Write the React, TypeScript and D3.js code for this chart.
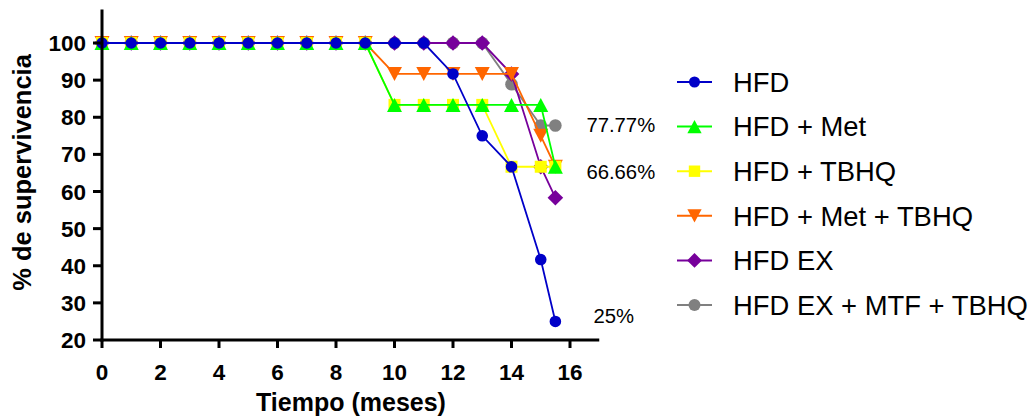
import React from 'react';
import * as d3 from 'd3';

const months = [0, 1, 2, 3, 4, 5, 6, 7, 8, 9, 10, 11, 12, 13, 14, 15, 15.5];
const hfd = [100, 100, 100, 100, 100, 100, 100, 100, 100, 100, 100, 100, 91.67, 75, 66.67, 41.67, 25];
const hfdMet = [100, 100, 100, 100, 100, 100, 100, 100, 100, 100, 83.33, 83.33, 83.33, 83.33, 83.33, 83.33, 66.67];
const hfdTbhq = [100, 100, 100, 100, 100, 100, 100, 100, 100, 100, 83.33, 83.33, 83.33, 83.33, 66.67, 66.67, 66.67];
const hfdMetTbhq = [100, 100, 100, 100, 100, 100, 100, 100, 100, 100, 91.67, 91.67, 91.67, 91.67, 91.67, 75, 66.67];
const hfdEx = [100, 100, 100, 100, 100, 100, 100, 100, 100, 100, 100, 100, 100, 100, 91.67, 66.67, 58.33];
const hfdExMtfTbhq = [100, 100, 100, 100, 100, 100, 100, 100, 100, 100, 100, 100, 100, 100, 88.89, 77.78, 77.78];

const seriesNames = ['HFD', 'HFD + Met', 'HFD + TBHQ', 'HFD + Met + TBHQ', 'HFD EX', 'HFD EX + MTF + TBHQ'];
const seriesValues = [hfd, hfdMet, hfdTbhq, hfdMetTbhq, hfdEx, hfdExMtfTbhq];
const seriesColors = ['#0000c8', '#00ff00', '#ffff00', '#ff6600', '#77009b', '#808080'];
const seriesShapes = ['circle', 'triangleUp', 'square', 'triangleDown', 'diamond', 'circleBig'];

const xTicks = [0, 2, 4, 6, 8, 10, 12, 14, 16];
const yTicks = [20, 30, 40, 50, 60, 70, 80, 90, 100];

const annotationTexts = ['77.77%', '66.66%', '25%'];
const annotationValues = [77.9, 65.3, 26.5];
const annotationDx = [31, 31, 38];

const FONT = '"Liberation Sans", Arial, Helvetica, sans-serif';

function markerPath(shape: string): string {
  switch (shape) {
    case 'circle': {
      const r = 5.8;
      return `M${-r},0A${r},${r} 0 1,0 ${r},0A${r},${r} 0 1,0 ${-r},0Z`;
    }
    case 'circleBig': {
      const r = 6.3;
      return `M${-r},0A${r},${r} 0 1,0 ${r},0A${r},${r} 0 1,0 ${-r},0Z`;
    }
    case 'triangleUp':
      return 'M0,-7L7.5,7L-7.5,7Z';
    case 'triangleDown':
      return 'M0,7L7.5,-7L-7.5,-7Z';
    case 'square':
      return 'M-6,-6L6,-6L6,6L-6,6Z';
    case 'diamond':
      return 'M0,-7.8L7.8,0L0,7.8L-7.8,0Z';
    default:
      return '';
  }
}

export default function App() {
  const x = d3.scaleLinear().domain([0, 17]).range([102, 599.25]);
  const y = d3.scaleLinear().domain([20, 109]).range([340, 9.6]);

  const line = d3
    .line<number>()
    .x((_, i) => x(months[i]))
    .y((d) => y(d));

  const order = d3.range(seriesValues.length).reverse();

  const legendX0 = 677;
  const legendX1 = 712;
  const legendY0 = 82;
  const legendStep = 44.6;

  return (
    <svg
      width={1030}
      height={417}
      style={{ position: 'absolute', left: 0, top: 0, background: '#fff' }}
      fontFamily={FONT}
    >
      <rect x={0} y={0} width={1030} height={417} fill="#fff" />

      {/* series */}
      {order.map((si) => (
        <g key={si}>
          <path
            d={line(seriesValues[si]) || ''}
            fill="none"
            stroke={seriesColors[si]}
            strokeWidth={1.8}
          />
          {seriesValues[si].map((v, i) => (
            <path
              key={i}
              d={markerPath(seriesShapes[si])}
              transform={`translate(${x(months[i])},${y(v)})`}
              fill={seriesColors[si]}
            />
          ))}
        </g>
      ))}

      {/* axes */}
      <g stroke="#000" strokeWidth={3} fill="none">
        <line x1={x(0)} x2={x(0)} y1={y(109)} y2={y(20) + 1.5} />
        <line x1={x(0) - 1.5} x2={x(17)} y1={y(20)} y2={y(20)} />
        {yTicks.map((t) => (
          <line key={'yt' + t} x1={x(0) - 9} x2={x(0)} y1={y(t)} y2={y(t)} />
        ))}
        {xTicks.map((t) => (
          <line key={'xt' + t} x1={x(t)} x2={x(t)} y1={y(20)} y2={y(20) + 8} />
        ))}
      </g>
      {yTicks.map((t) => (
        <text
          key={'yl' + t}
          x={86}
          y={y(t) + 8}
          textAnchor="end"
          fontSize={22.5}
          fontWeight="bold"
          fill="#000"
        >
          {t}
        </text>
      ))}
      {xTicks.map((t) => (
        <text
          key={'xl' + t}
          x={x(t)}
          y={380}
          textAnchor="middle"
          fontSize={22.5}
          fontWeight="bold"
          fill="#000"
        >
          {t}
        </text>
      ))}
      <text x={351} y={411} textAnchor="middle" fontSize={25} fontWeight="bold" fill="#000">
        Tiempo (meses)
      </text>
      <text
        transform="translate(30.5,172.5) rotate(-90)"
        textAnchor="middle"
        fontSize={25.5}
        fontWeight="bold"
        fill="#000"
      >
        % de supervivencia
      </text>

      {/* annotations */}
      {annotationTexts.map((t, i) => (
        <text
          key={'an' + i}
          x={x(15.5) + annotationDx[i]}
          y={y(annotationValues[i]) + 7.2}
          fontSize={20.3}
          fill="#000"
        >
          {t}
        </text>
      ))}

      {/* legend */}
      {seriesNames.map((name, i) => {
        const cy = legendY0 + i * legendStep;
        return (
          <g key={'lg' + i}>
            <line x1={legendX0} x2={legendX1} y1={cy} y2={cy} stroke={seriesColors[i]} strokeWidth={2} />
            <path
              d={markerPath(seriesShapes[i])}
              transform={`translate(${(legendX0 + legendX1) / 2},${cy}) scale(0.95)`}
              fill={seriesColors[i]}
            />
            <text x={733} y={cy + 9.8} fontSize={27.4} fill="#000">
              {name}
            </text>
          </g>
        );
      })}
    </svg>
  );
}
